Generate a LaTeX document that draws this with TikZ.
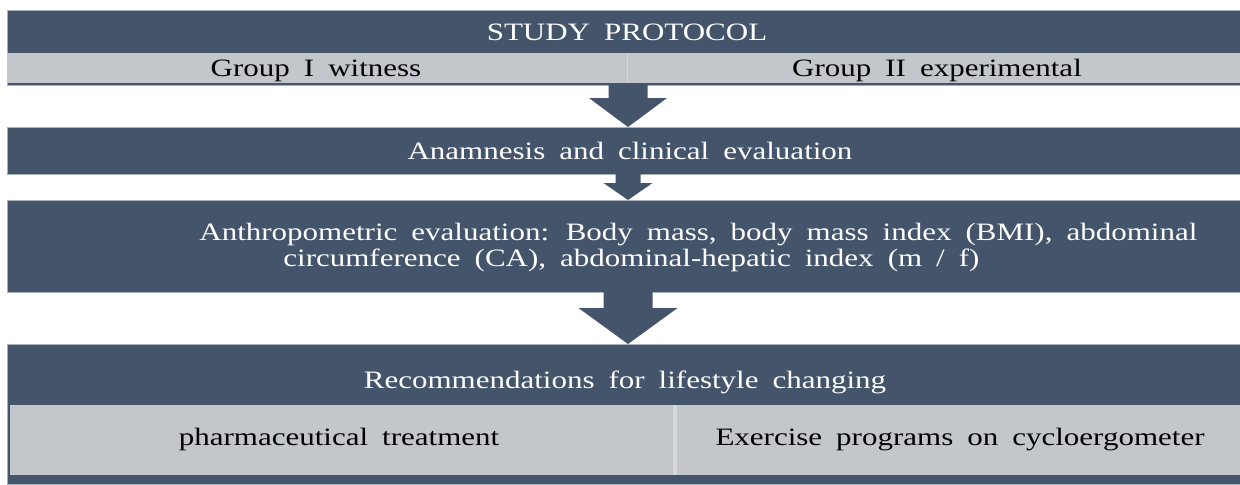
\documentclass[tikz,border=0pt]{standalone}
\usepackage{fontspec}
\setmainfont{Liberation Serif}
\newfontfamily\wideserif[FakeStretch=1.24]{Liberation Serif}
\usetikzlibrary{calc}
\definecolor{slate}{HTML}{44546A}
\definecolor{mist}{HTML}{C3C6CB}
\definecolor{rim}{HTML}{A9B1BA}
\definecolor{seam}{HTML}{D6D8DB}

% Label font: wide serif with generous word spaces
\newcommand\lblfont{\wideserif\fontsize{12.5}{15}\selectfont\setlength{\spaceskip}{7pt}}

% Block arrow between two stacked boxes, centred on the column ax.
% #1 upper node, #2 lower node, #3 shaft half-width, #4 head half-width, #5 head length
\newcommand\blockarrow[5]{%
  \fill[slate]
    ($(#1.south -| ax)+(-#3,0)$) -- ($(#2.north -| ax)+(-#3,-#5)$) --
    ($(#2.north -| ax)+(-#4,-#5)$) -- (#2.north -| ax) --
    ($(#2.north -| ax)+(#4,-#5)$) -- ($(#2.north -| ax)+(#3,-#5)$) --
    ($(#1.south -| ax)+(#3,0)$) -- cycle;}

\begin{document}
\begin{tikzpicture}[x=0.5pt,y=-0.5pt,
  band/.style={inner sep=0, outer sep=0, anchor=north west},
  darkbox/.style={band, fill=slate, draw=rim, line width=0.5pt},
  lightbox/.style={band, fill=mist},
  txt/.style={inner sep=0, anchor=base, font=\lblfont},
  whitetxt/.style={txt, text=white},
  blacktxt/.style={txt, text=black}]

  \useasboundingbox[fill=white] (0,0) rectangle (1240,484);
  \coordinate (ax) at (628,0);

  % title block with the two groups
  \node[darkbox, minimum width=616.5pt, minimum height=37.5pt] (top) at (7,10) {};
  \node[lightbox, minimum width=616.5pt, minimum height=15pt] (groups) at (7,53) {};
  \fill[seam] (627,53) rectangle (628,83);
  \node[whitetxt] (title) at (627,40) {STUDY PROTOCOL};
  \node[blacktxt] (g1) at (316,76) {Group I witness};
  \node[blacktxt] (g2) at (937,76) {Group II experimental};

  % clinical evaluation
  \node[darkbox, minimum width=616.5pt, minimum height=23.5pt] (anam) at (7,127) {};
  \node[whitetxt] (anamtxt) at (630,159) {Anamnesis and clinical evaluation};

  % anthropometric evaluation
  \node[darkbox, minimum width=616.5pt, minimum height=46pt] (anthro) at (7,200) {};
  \node[whitetxt, anchor=base west] (anthro1) at (199,240)
    {Anthropometric evaluation: Body mass, body mass index (BMI), abdominal};
  \node[whitetxt, anchor=base west] (anthro2) at (283,266)
    {circumference (CA), abdominal-hepatic index (m / f)};

  % recommendations with the two treatments
  \node[darkbox, minimum width=616.5pt, minimum height=70pt] (rec) at (7,344) {};
  \node[lightbox, minimum width=615pt, minimum height=35pt] (treat) at (10,405) {};
  \fill[seam] (673,405) rectangle (677,475);
  \node[whitetxt] (rectxt) at (625,388) {Recommendations for lifestyle changing};
  \node[blacktxt] (t1) at (339,445) {pharmaceutical treatment};
  \node[blacktxt] (t2) at (960,445) {Exercise programs on cycloergometer};

  % connecting block arrows
  \blockarrow{top}{anam}{19.5}{39}{29}
  \blockarrow{anam}{anthro}{12.5}{24.5}{17}
  \blockarrow{anthro}{rec}{24.5}{49.5}{36}
\end{tikzpicture}
\end{document}
